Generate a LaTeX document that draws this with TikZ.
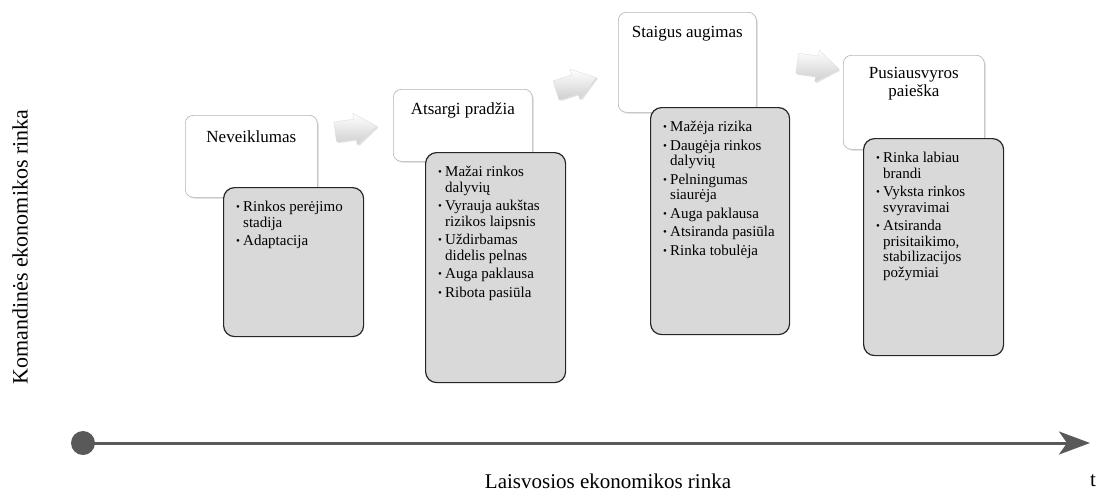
\documentclass[tikz,border=0pt]{standalone}
\usepackage{fontspec}
\setmainfont{Liberation Serif}
\usetikzlibrary{shadows,arrows.meta,calc}

\definecolor{boxgray}{HTML}{D9D9D9}
\definecolor{edgedark}{HTML}{262626}
\definecolor{titleedge}{HTML}{B4B4B4}
\definecolor{axisgray}{HTML}{595959}

% small bullet and continuation indent for the fact lists
\newcommand{\bul}{\makebox[7pt][l]{\raisebox{1pt}{\fontsize{11}{11}\selectfont\textbullet}}}
\newcommand{\cont}{\hspace*{7pt}}

% light shaded block arrow between stages: centre x, centre y, angle
\newcommand{\stagearrow}[3]{%
  \begin{scope}[shift={(#1,#2)},rotate=#3]
    \fill[black,opacity=0.12] (-19.5,-8.5) -- (0.5,-8.5) -- (0.5,-14.5) -- (22.5,1.5) -- (0.5,17.5) -- (0.5,11.5) -- (-19.5,11.5) -- cycle;
    \shade[top color=white, bottom color=gray!38, draw=gray!30, line width=0.3pt]
      (-21,-10) -- (-1,-10) -- (-1,-16) -- (21,0) -- (-1,16) -- (-1,10) -- (-21,10) -- cycle;
  \end{scope}}

\tikzset{
  titlebox/.style={draw=titleedge, fill=white, rounded corners=8pt, line width=0.6pt,
    anchor=north west, inner sep=0pt,
    drop shadow={shadow xshift=1.5pt, shadow yshift=-1.5pt, opacity=0.22}},
  factbox/.style={draw=edgedark, fill=boxgray, rounded corners=11pt, line width=1.2pt,
    anchor=north west, inner sep=0pt},
  titletext/.style={anchor=north, inner sep=0pt, align=center,
    font=\fontsize{17}{18.5}\selectfont},
  facttext/.style={anchor=north west, inner sep=0pt, align=left,
    font=\fontsize{15}{15.5}\selectfont},
  axislabel/.style={inner sep=0pt, font=\fontsize{21}{24}\selectfont},
}

\begin{document}
\begin{tikzpicture}[x=1pt,y=-1pt]
\useasboundingbox (0,0) rectangle (1097,491);

% stage title boxes
\node[titlebox, minimum width=132pt, minimum height=82pt]  (t1) at (185,115) {};
\node[titlebox, minimum width=139pt, minimum height=72pt]  (t2) at (393,89)  {};
\node[titlebox, minimum width=138pt, minimum height=100pt] (t3) at (618,12)  {};
\node[titlebox, minimum width=141pt, minimum height=94pt]  (t4) at (843,55)  {};

\node[titletext] (t1txt) at ($(t1.north)+(0,15)$) {Neveiklumas};
\node[titletext] (t2txt) at ($(t2.north)+(0,13)$) {Atsargi pradžia};
\node[titletext] (t3txt) at ($(t3.north)+(0,14)$) {Staigus augimas};
\node[titletext] (t4txt) at ($(t4.north)+(0,12)$) {Pusiausvyros\\paieška};

% stage feature boxes
\node[factbox, minimum width=140pt, minimum height=149pt] (g1) at (223,187) {};
\node[factbox, minimum width=140pt, minimum height=230pt] (g2) at (425,152) {};
\node[factbox, minimum width=139pt, minimum height=227pt] (g3) at (650,107) {};
\node[factbox, minimum width=140pt, minimum height=217pt] (g4) at (863,138) {};

\node[facttext] (g1txt) at ($(g1.north west)+(13,14)$)
  {\bul Rinkos perėjimo\\ \cont stadija\\[3pt] \bul Adaptacija};
\node[facttext] (g2txt) at ($(g2.north west)+(13,14)$)
  {\bul Mažai rinkos\\ \cont dalyvių\\[3pt]
   \bul Vyrauja aukštas\\ \cont rizikos laipsnis\\[3pt]
   \bul Uždirbamas\\ \cont didelis pelnas\\[3pt]
   \bul Auga paklausa\\[3pt]
   \bul Ribota pasiūla};
\node[facttext] (g3txt) at ($(g3.north west)+(13,14)$)
  {\bul Mažėja rizika\\[3pt]
   \bul Daugėja rinkos\\ \cont dalyvių\\[3pt]
   \bul Pelningumas\\ \cont siaurėja\\[3pt]
   \bul Auga paklausa\\[3pt]
   \bul Atsiranda pasiūla\\[3pt]
   \bul Rinka tobulėja};
\node[facttext] (g4txt) at ($(g4.north west)+(13,14)$)
  {\bul Rinka labiau\\ \cont brandi\\[3pt]
   \bul Vyksta rinkos\\ \cont svyravimai\\[3pt]
   \bul Atsiranda\\ \cont prisitaikimo,\\ \cont stabilizacijos\\ \cont požymiai};

% arrows leading from one stage to the next
\stagearrow{356}{129}{8}
\stagearrow{576}{84}{18}
\stagearrow{818}{66}{-8}

% time axis
\coordinate (origin) at (83,443);
\coordinate (tip) at (1090,443);
\fill[axisgray] (origin) circle (12pt);
\draw[axisgray, line width=3pt, -{Stealth[length=31pt, width=23pt, inset=8pt]}] (origin) -- (tip);

\node[axislabel] (xlab) at (608,481) {Laisvosios ekonomikos rinka};
\node[axislabel] (tlab) at (1093,481) {t};
\node[axislabel, rotate=90, font=\fontsize{22}{24}\selectfont] (ylab) at (20,247) {Komandinės ekonomikos rinka};
\end{tikzpicture}
\end{document}
